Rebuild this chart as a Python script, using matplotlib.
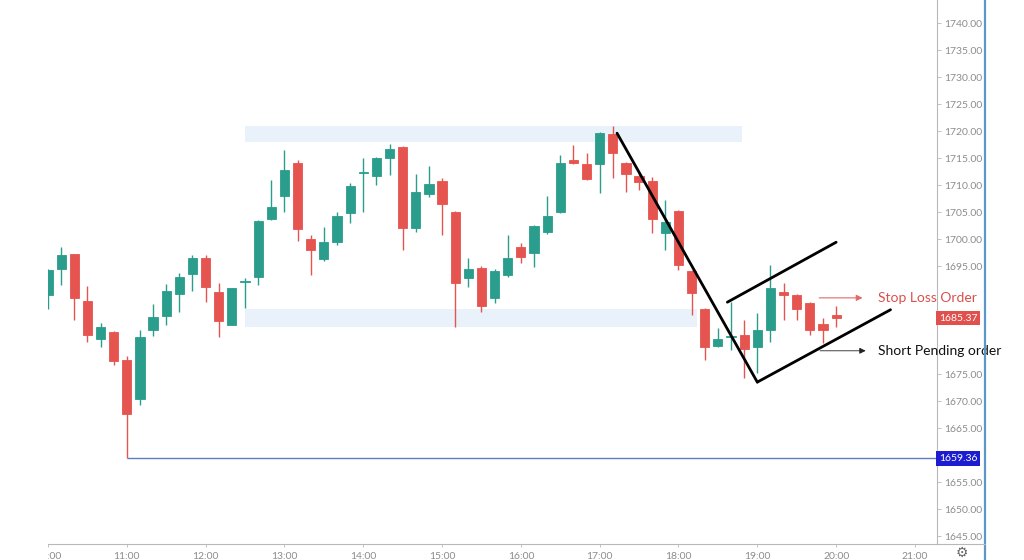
import numpy as np
import matplotlib
matplotlib.use("Agg")
import matplotlib.pyplot as plt
from matplotlib.patches import Rectangle
from matplotlib.lines import Line2D

# 10-minute candles starting at 10:00
start_hour = 10.0
bar_minutes = 10

opens = [1689.6, 1694.4, 1697.2, 1688.5, 1681.5, 1682.8, 1677.6, 1670.4, 1683.1, 1685.7,
         1689.8, 1693.5, 1696.5, 1690.2, 1684.1, 1692.0, 1693.0, 1703.7, 1708.0, 1714.1,
         1700.0, 1696.3, 1699.4, 1704.8, 1712.2, 1711.7, 1715.0, 1717.0, 1702.0, 1708.3,
         1710.7, 1705.0, 1692.8, 1694.6, 1689.1, 1693.3, 1698.5, 1697.4, 1701.3, 1705.0,
         1714.6, 1713.9, 1713.9, 1719.4, 1714.1, 1711.7, 1710.7, 1701.1, 1705.2, 1694.1,
         1687.0, 1680.2, 1681.8, 1682.2, 1680.0, 1683.1, 1690.2, 1689.6, 1688.1, 1684.3,
         1686.0]
highs = [1694.5, 1698.5, 1697.3, 1691.3, 1684.4, 1683.0, 1678.3, 1683.1, 1688.0, 1691.7,
         1693.7, 1697.0, 1697.0, 1691.8, 1691.0, 1692.8, 1703.5, 1710.9, 1716.5, 1714.6,
         1700.7, 1702.2, 1705.0, 1710.4, 1715.0, 1715.2, 1717.6, 1717.2, 1712.0, 1713.5,
         1711.3, 1705.2, 1696.5, 1695.0, 1694.5, 1700.7, 1699.3, 1702.6, 1708.0, 1715.6,
         1717.4, 1716.0, 1719.8, 1720.9, 1714.2, 1712.5, 1711.5, 1707.2, 1705.3, 1694.3,
         1687.2, 1683.5, 1688.3, 1685.0, 1686.3, 1695.2, 1691.9, 1689.8, 1688.3, 1685.4,
         1687.6]
lows = [1687.0, 1691.5, 1685.0, 1681.0, 1680.0, 1676.7, 1659.36, 1669.3, 1682.0, 1684.0,
        1686.5, 1690.4, 1688.3, 1681.9, 1684.0, 1687.2, 1691.5, 1703.5, 1705.0, 1699.6,
        1693.3, 1696.0, 1698.9, 1703.0, 1705.0, 1710.0, 1711.9, 1698.0, 1701.3, 1707.8,
        1700.7, 1683.7, 1691.1, 1686.5, 1688.2, 1693.0, 1695.6, 1694.8, 1701.0, 1704.8,
        1713.8, 1710.9, 1708.5, 1711.3, 1708.7, 1709.0, 1701.1, 1698.0, 1694.3, 1686.0,
        1677.6, 1680.0, 1679.4, 1674.3, 1675.2, 1681.0, 1685.0, 1685.0, 1682.2, 1680.7,
        1683.7]
closes = [1694.3, 1697.0, 1689.1, 1682.2, 1683.7, 1677.4, 1667.6, 1681.9, 1685.6, 1690.4,
          1693.0, 1696.5, 1691.1, 1684.8, 1690.9, 1692.2, 1703.3, 1705.9, 1712.8, 1701.9,
          1698.0, 1699.4, 1704.3, 1709.8, 1712.4, 1715.0, 1716.7, 1702.0, 1708.7, 1710.2,
          1706.5, 1691.9, 1694.4, 1687.6, 1694.1, 1696.5, 1696.7, 1702.4, 1704.3, 1714.1,
          1714.1, 1711.1, 1719.6, 1715.9, 1712.0, 1710.6, 1703.7, 1703.1, 1695.2, 1690.0,
          1680.0, 1681.5, 1682.0, 1679.6, 1683.2, 1690.9, 1689.6, 1687.0, 1683.1, 1683.1,
          1685.37]

last_price = 1685.37
low_price = 1659.36
low_line_start = 11.0

hour_ticks = list(range(10, 22))
price_ticks = [1645, 1650, 1655, 1665, 1670, 1675, 1695, 1700, 1705, 1710,
               1715, 1720, 1725, 1730, 1735, 1740]

# drawn zones (time from/to, price from/to)
zone_top = (12.5, 18.81, 1717.9, 1720.9)
zone_bottom = (12.5, 18.24, 1683.7, 1687.0)

# trend/flag lines in (hour, price)
drop_t, drop_p = [17.22, 19.0], [1719.6, 1673.5]
upper_t, upper_p = [18.62, 20.0], [1688.3, 1699.4]
lower_t, lower_p = [19.0, 20.69], [1673.5, 1686.9]

stop_t, stop_p = [19.75, 20.37], 1689.1
short_t, short_p = [19.76, 20.41], 1679.3
text_t = 20.53

up_col = "#2a9d8c"
down_col = "#e5544f"
grid_txt = "#8c8c8c"

W, H = 1024, 560
fig = plt.figure(figsize=(W / 100, H / 100), dpi=100)
ax = fig.add_axes([48 / W, 16 / H, (937 - 48) / W, 544 / H])

times = start_hour + np.arange(len(opens)) * bar_minutes / 60.0
bw = 0.7 * bar_minutes / 60.0
for t, o, h, l, c in zip(times, opens, highs, lows, closes):
    col = up_col if c >= o else down_col
    ax.vlines(t, l, h, color=col, lw=1.0, zorder=3)
    bot, top = min(o, c), max(o, c)
    ax.add_patch(Rectangle((t - bw / 2, bot), bw, max(top - bot, 0.25),
                           facecolor=col, edgecolor=col, lw=0.6, zorder=4))

for z in (zone_top, zone_bottom):
    ax.add_patch(Rectangle((z[0], z[2]), z[1] - z[0], z[3] - z[2],
                           facecolor="#e9f1fb", edgecolor="none", zorder=1))

ax.hlines(low_price, low_line_start, 30, color="#5c7cc4", lw=1.0, zorder=2)

for tt, pp in ((drop_t, drop_p), (upper_t, upper_p), (lower_t, lower_p)):
    ax.plot(tt, pp, color="black", lw=2.0, solid_capstyle="round", zorder=6)

ax.annotate("", xy=(stop_t[1], stop_p), xytext=(stop_t[0], stop_p),
            arrowprops=dict(arrowstyle="-|>", color="#e06a66", lw=0.8,
                            mutation_scale=9), zorder=6)
ax.annotate("", xy=(short_t[1], short_p), xytext=(short_t[0], short_p),
            arrowprops=dict(arrowstyle="-|>", color="#222222", lw=0.6,
                            mutation_scale=9), zorder=6)
ax.text(text_t, stop_p, "Stop Loss Order", color="#d9504c", fontsize=10,
        family="Lato", va="center", ha="left", clip_on=False, zorder=7)
ax.text(text_t, short_p, "Short Pending order", color="#111111", fontsize=10,
        family="Lato", va="center", ha="left", clip_on=False, zorder=7)

ax.set_xlim(start_hour, 21.28)
ax.set_ylim(1643.52, 1744.26)

for s in ("top", "left"):
    ax.spines[s].set_visible(False)
ax.spines["right"].set_color("#b8b8b8")
ax.spines["bottom"].set_color("#b8b8b8")
ax.spines["right"].set_linewidth(0.8)
ax.spines["bottom"].set_linewidth(0.8)

ax.yaxis.tick_right()
ax.set_yticks(price_ticks)
ax.set_yticklabels(["%.2f" % p for p in price_ticks])
ax.tick_params(axis="y", length=3, width=0.6, color="#b8b8b8", pad=2,
               labelsize=7.5, labelcolor=grid_txt)
ax.set_xticks(hour_ticks)
ax.set_xticklabels(["%d:00" % h for h in hour_ticks])
ax.tick_params(axis="x", length=2, width=0.6, color="#b8b8b8", pad=4,
               labelsize=7.5, labelcolor=grid_txt)
for lab in ax.get_xticklabels() + ax.get_yticklabels():
    lab.set_family("Lato")

# price tags on the axis
ax.text(1.002, last_price, "%.2f" % last_price, transform=ax.get_yaxis_transform(),
        color="white", fontsize=7.5, family="Lato", va="center", ha="left",
        bbox=dict(boxstyle="square,pad=0.25", fc="#e0504d", ec="none"), zorder=8)
ax.text(1.002, low_price, "%.2f" % low_price, transform=ax.get_yaxis_transform(),
        color="white", fontsize=7.5, family="Lato", va="center", ha="left",
        bbox=dict(boxstyle="square,pad=0.25", fc="#1c1cd0", ec="none"), zorder=8)

# price-scale frame and settings icon
fig.add_artist(Line2D([985 / W, 985 / W], [0, 1], color="#5b98c9", lw=1.6))
fig.add_artist(Line2D([937 / W, 985 / W], [16 / H, 16 / H], color="#b8b8b8", lw=0.8))
fig.text(962 / W, 7 / H, "\u2699", color="#666666", fontsize=10, ha="center", va="center")

# left part of the screen is cut off
fig.add_artist(Rectangle((0, 0), 48 / W, 1, transform=fig.transFigure,
                         facecolor="white", edgecolor="none", zorder=20))

fig.savefig("out.png", dpi=100)
